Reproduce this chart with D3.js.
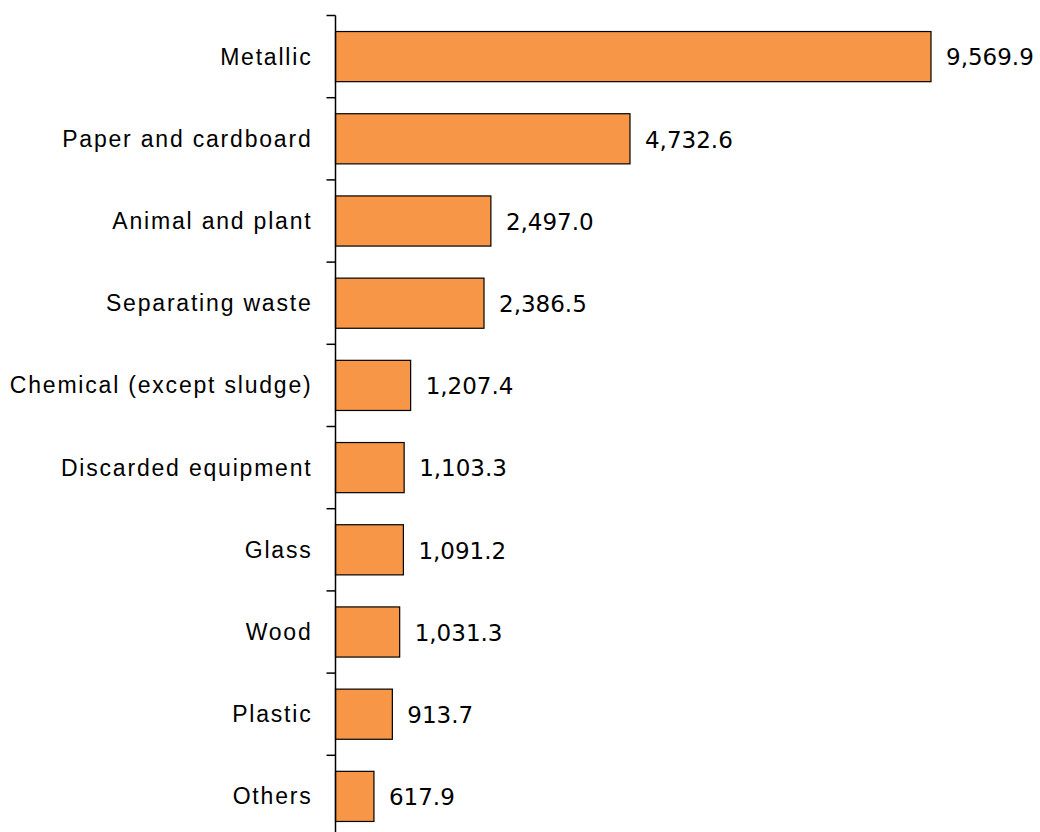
<!DOCTYPE html>
<html>
<head>
<meta charset="utf-8">
<script src="https://cdn.jsdelivr.net/npm/d3@7"></script>
<style>
  html, body { margin: 0; padding: 0; background: #fff; }
  svg { display: block; }
</style>
</head>
<body>
<svg id="chart" width="1040" height="832"></svg>
<script>
// Waste categories and their amounts
const categories = [
  "Metallic", "Paper and cardboard", "Animal and plant", "Separating waste",
  "Chemical (except sludge)", "Discarded equipment", "Glass", "Wood",
  "Plastic", "Others"
];
const values = [9569.9, 4732.6, 2497.0, 2386.5, 1207.4, 1103.3, 1091.2, 1031.3, 913.7, 617.9];

const svg = d3.select("#chart");
const axisX = 335.5;

const x = d3.scaleLinear()
  .domain([0, d3.max(values)])
  .range([axisX, 931]);

const y = d3.scaleBand()
  .domain(categories)
  .range([15.5, 15.5 + 82.2 * categories.length])
  .paddingInner(0.39)
  .paddingOuter(0.195);

// Category boundary ticks along the vertical axis
const step = y.step();
const boundaries = d3.range(categories.length + 1).map(i => 15.5 + i * step);

svg.append("g")
  .selectAll("line")
  .data(boundaries)
  .join("line")
  .attr("x1", axisX - 9)
  .attr("x2", axisX)
  .attr("y1", d => d)
  .attr("y2", d => d)
  .attr("stroke", "#000")
  .attr("stroke-width", 1.5);

// Bars
svg.append("g")
  .selectAll("rect")
  .data(values)
  .join("rect")
  .attr("x", axisX)
  .attr("y", (d, i) => y(categories[i]))
  .attr("width", d => x(d) - axisX)
  .attr("height", y.bandwidth())
  .attr("fill", "#F79646")
  .attr("stroke", "#000")
  .attr("stroke-width", 1.2);

// Vertical axis line
svg.append("line")
  .attr("x1", axisX).attr("x2", axisX)
  .attr("y1", 15.5).attr("y2", 832)
  .attr("stroke", "#000")
  .attr("stroke-width", 1.5);

// Category labels
svg.append("g")
  .selectAll("text")
  .data(categories)
  .join("text")
  .attr("x", 312.5)
  .attr("y", d => y(d) + y.bandwidth() / 2)
  .attr("dy", "0.35em")
  .attr("text-anchor", "end")
  .attr("font-family", "'Liberation Sans', Arial, sans-serif")
  .attr("font-size", 23)
  .attr("letter-spacing", "1.8px")
  .attr("fill", "#000")
  .text(d => d);

// Value labels
const fmt = d3.format(",.1f");
svg.append("g")
  .selectAll("text")
  .data(values)
  .join("text")
  .attr("x", d => x(d) + 15)
  .attr("y", (d, i) => y(categories[i]) + y.bandwidth() / 2)
  .attr("dy", "0.38em")
  .attr("font-family", "'DejaVu Sans', Verdana, sans-serif")
  .attr("font-size", 23)
  .attr("fill", "#000")
  .text(d => fmt(d));
</script>
</body>
</html>
